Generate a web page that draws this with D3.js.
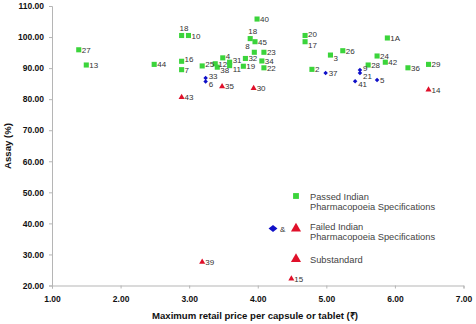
<!DOCTYPE html>
<html>
<head>
<meta charset="utf-8">
<script src="https://cdn.jsdelivr.net/npm/d3@7"></script>
<style>
  body { margin: 0; background: #fff; }
  svg { display: block; font-family: "Liberation Sans", Arial, sans-serif; }
</style>
</head>
<body>
<div id="chart"></div>
<script>
// sample ids, price (x), assay (y) and result group
const ids    = ["27","13","44","18","10","16","7","43","25","33","6","12","38","4","35","31","11",
                "40","18","45","8","23","32","34","19","22","30","20","17","3","26","2","37",
                "1A","24","42","28","9","21","41","5","36","29","14","39","15"];
const prices = [1.39,1.50,2.49,2.89,2.99,2.89,2.89,2.89,3.19,3.24,3.24,3.38,3.41,3.49,3.48,3.59,3.59,
                3.99,3.89,3.96,3.95,4.09,3.82,4.06,3.79,4.09,3.94,4.69,4.69,5.06,5.24,4.79,4.99,
                5.89,5.74,5.86,5.61,5.49,5.49,5.42,5.74,6.19,6.49,6.49,3.19,4.49];
const assays = [95.9,91.0,91.2,100.5,100.5,92.2,89.5,80.6,90.7,86.8,85.7,91.4,90.3,93.3,84.1,91.9,90.8,
                105.8,99.5,98.5,95.1,95.1,93.1,92.3,90.6,90.1,83.5,100.5,98.5,94.2,95.6,89.6,88.4,
                99.7,93.9,91.9,91.0,89.4,88.4,85.8,86.2,90.1,91.2,83.0,27.6,22.2];
// P = passed, F = failed (blue), S = substandard (red)
const groups = ["P","P","P","P","P","P","P","S","P","F","F","P","P","P","S","P","P",
                "P","P","P","P","P","P","P","P","P","S","P","P","P","P","P","F",
                "P","P","P","P","F","F","F","F","P","P","S","S","S"];

const xTicks = [1,2,3,4,5,6,7];
const yTicks = [20,30,40,50,60,70,80,90,100,110];

const legendLines = [
  ["Passed Indian", "Pharmacopoeia Specifications"],
  ["Failed Indian", "Pharmacopoeia Specifications"],
  ["Substandard"]
];

// label placement tweaks (by point index)
const labelAt = {3: "top", 18: "top", 20: "lefttop", 5: "up", 8: "up", 13: "up", 15: "up",
                 16: "down", 12: "down", 9: "up", 10: "down", 37: "up", 38: "down", 39: "down",
                 29: "down", 28: "down", 27: "up"};

const W = 476, H = 324;
const colors = {P: "#3bd43b", F: "#1010c8", S: "#e0102a"};

const svg = d3.select("#chart").append("svg").attr("width", W).attr("height", H);

const x = d3.scaleLinear().domain([1, 7]).range([52, 463.5]);
const y = d3.scaleLinear().domain([20, 110]).range([285.5, 6]);

const xAxis = svg.append("g").attr("transform", "translate(0," + y(20) + ")")
  .call(d3.axisBottom(x).tickValues(xTicks).tickSize(3).tickPadding(7).tickFormat(d3.format(".2f")));
const yAxis = svg.append("g").attr("transform", "translate(" + x(1) + ",0)")
  .call(d3.axisLeft(y).tickValues(yTicks).tickSize(3).tickPadding(5).tickFormat(d3.format(".2f")));

[xAxis, yAxis].forEach(g => {
  g.select(".domain").attr("stroke", "#b5b5b5");
  g.selectAll(".tick line").attr("stroke", "#b5b5b5");
  g.selectAll(".tick text").attr("font-size", 8.5).attr("font-weight", "bold")
    .attr("fill", "#111").attr("font-family", "Liberation Sans, Arial, sans-serif");
});

svg.append("text").attr("x", 255).attr("y", 319).attr("text-anchor", "middle")
  .attr("font-size", 9.6).attr("font-weight", "bold").attr("fill", "#111")
  .text("Maximum retail price per capsule or tablet (₹)");
svg.append("text").attr("transform", "translate(11,146) rotate(-90)").attr("text-anchor", "middle")
  .attr("font-size", 9.6).attr("font-weight", "bold").attr("fill", "#111")
  .text("Assay (%)");

const sym = {
  P: d3.symbol().type(d3.symbolSquare).size(26),
  F: d3.symbol().type(d3.symbolDiamond2).size(13),
  S: d3.symbol().type(d3.symbolTriangle).size(16)
};

const pts = ids.map((id, i) => ({id, px: prices[i], a: assays[i], g: groups[i], i}));

svg.append("g").selectAll("path").data(pts).join("path")
  .attr("transform", d => "translate(" + x(d.px) + "," + y(d.a) + ")")
  .attr("d", d => sym[d.g]())
  .attr("fill", d => colors[d.g]);

svg.append("g").selectAll("text").data(pts).join("text")
  .attr("x", d => {
    const p = labelAt[d.i];
    if (p === "top") return x(d.px) - 2;
    if (p === "lefttop") return x(d.px) - 9;
    return x(d.px) + 3;
  })
  .attr("y", d => {
    const p = labelAt[d.i];
    let yy = y(d.a) + 3;
    if (p === "top") yy = y(d.a) - 5;
    if (p === "lefttop") yy = y(d.a) - 3;
    if (p === "up") yy = y(d.a) + 1;
    if (p === "down") yy = y(d.a) + 6;
    return yy;
  })
  .attr("font-size", 8).attr("fill", "#333")
  .text(d => d.id);

// legend
const lg = svg.append("g");
const legY = [196, 226, 259];
lg.append("path").attr("transform", "translate(296," + legY[0] + ")")
  .attr("d", d3.symbol().type(d3.symbolSquare).size(34)()).attr("fill", colors.P);
lg.append("path").attr("transform", "translate(273," + (legY[1] + 2.5) + ") scale(1.3,1)")
  .attr("d", d3.symbol().type(d3.symbolDiamond2).size(30)()).attr("fill", colors.F);
lg.append("text").attr("x", 280).attr("y", legY[1] + 5.5).attr("font-size", 8).attr("fill", "#333").text("&");
lg.append("path").attr("transform", "translate(296," + (legY[1] + 2.5) + ")")
  .attr("d", d3.symbol().type(d3.symbolTriangle).size(44)()).attr("fill", colors.S);
lg.append("path").attr("transform", "translate(296," + legY[2] + ")")
  .attr("d", d3.symbol().type(d3.symbolTriangle).size(44)()).attr("fill", colors.S);

legendLines.forEach((lines, k) => {
  const t = lg.append("text").attr("x", 310).attr("y", legY[k] + 3.5)
    .attr("font-size", 9.3).attr("fill", "#444");
  lines.forEach((ln, j) => t.append("tspan").attr("x", 310).attr("dy", j ? 10.5 : 0).text(ln));
});
</script>
</body>
</html>
